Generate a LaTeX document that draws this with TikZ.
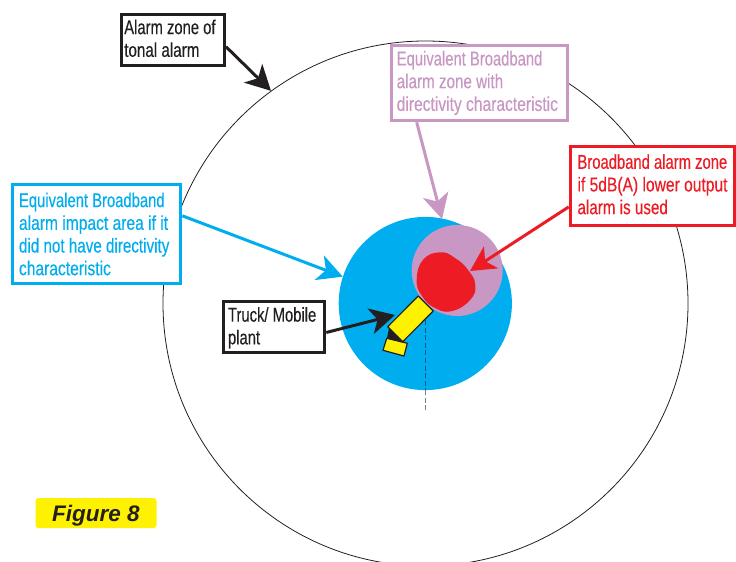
\documentclass[tikz,border=0pt]{standalone}
\usepackage{fontspec}
\setmainfont{Liberation Sans}
\newfontfamily\condfont[FakeStretch=0.74,FakeBold=0.25]{Liberation Sans}
\newfontfamily\condmid[FakeStretch=0.76,FakeBold=0.25]{Liberation Sans}
\newfontfamily\condwide[FakeStretch=0.78,FakeBold=0.25]{Liberation Sans}
\usetikzlibrary{arrows.meta}
\definecolor{ink}{HTML}{231F20}
\definecolor{skyc}{HTML}{00AEEF}
\definecolor{lilac}{HTML}{C897C3}
\definecolor{redc}{HTML}{ED1C24}
\definecolor{yelc}{HTML}{FFF200}
\tikzset{
  lab/.style={draw=#1,text=#1,fill=white,line width=3pt,inner sep=0pt,align=left,anchor=center,
    font=\condfont\fontsize{20}{22.7}\selectfont},
  lead/.style={draw=#1,line width=3pt,-{Stealth[length=25pt,width=26pt,inset=7pt,fill=#1]}},
  disc/.style={circle,inner sep=0pt,minimum size=#1,draw=none},
}
\begin{document}
\begin{tikzpicture}[x=1pt,y=-1pt]
\useasboundingbox (0,0) rectangle (736,562);
\clip (0,0) rectangle (736,562);
\node[disc=525pt,draw=ink,line width=0.8pt] (zone) at (425.5,303.5) {};
\node[disc=173.2pt,fill=skyc] (bluezone) at (425.3,303.5) {};
\node[disc=91pt,fill=lilac] (lilaczone) at (457.2,270.5) {};
\fill[redc] plot[smooth cycle,tension=0.8] coordinates {(440,252.3) (455,258) (468,270) (475.3,285) (470,300) (452,311) (435,308) (422,296) (416.7,280) (423,260)};
\coordinate (redtip) at (470,271);
\draw[ink!60!skyc,line width=1pt,dash pattern=on 5pt off 2.6pt] (425,320) -- (425,390);
\draw[gray,line width=1pt,dash pattern=on 5pt off 2.6pt] (425,390) -- (425,410);
\fill[ink] (389,328) -- (387,338) -- (402,342) -- cycle;
\draw[ink,fill=yelc,line width=1.2pt,line join=round] (386.7,338.3) -- (407.3,343.3) -- (404,356) -- (383,350.3) -- cycle;
\draw[ink,fill=yelc,line width=1.2pt,line join=round] (418.3,296) -- (433.3,311) -- (402.7,341.7) -- (387.7,326.7) -- cycle;
\coordinate (trucktip) at (395,315);
\node[lab=ink,minimum width=103pt,minimum height=51pt] (tonal) at (173,40.2) {\raisebox{-3.3pt}[0pt][0pt]{\parbox{97.5pt}{Alarm zone of\\{\condmid tonal alarm}}}};
\node[lab=skyc,minimum width=168.5pt,minimum height=99.5pt] (bluebox) at (96.5,234) {\parbox{155pt}{Equivalent Broadband\\{\condwide alarm impact area if it}\\{\condmid did not have directivity}\\{\condwide characteristic}}};
\node[lab=lilac,minimum width=176.5pt,minimum height=75.5pt] (lilacbox) at (479.5,83) {\parbox{165.5pt}{Equivalent Broadband\\{\condmid alarm zone with}\\{\condwide directivity characteristic}}};
\node[lab=redc,minimum width=164.5pt,minimum height=79.5pt] (redbox) at (652.5,186) {\raisebox{-3.5pt}[0pt][0pt]{\parbox{150pt}{Broadband alarm zone\\{\condwide if 5dB(A) lower output}\\{\condmid alarm is used}}}};
\node[lab=ink,minimum width=101.5pt,minimum height=51.5pt] (truckbox) at (274,327) {\raisebox{-6pt}[0pt][0pt]{\parbox{92pt}{Truck/ Mobile\\plant}}};
\draw[lead=ink] (tonal.-7.5) -- (zone.126.3);
\draw[lead=lilac] (lilacbox.212) -- (442,219);
\draw[lead=skyc] (bluebox.12.5) -- (bluezone.162);
\draw[lead=redc] (redbox.194) -- (redtip);
\draw[lead=ink] (truckbox.-6.6) -- (trucktip);
\node[fill=yelc,rounded corners=3pt,minimum width=121pt,minimum height=30pt,inner sep=0pt,text=ink,font=\fontsize{22.5}{24}\selectfont\bfseries\itshape] (figlabel) at (96,513) {\raisebox{-8pt}[0pt][0pt]{Figure 8}};
\end{tikzpicture}
\end{document}
